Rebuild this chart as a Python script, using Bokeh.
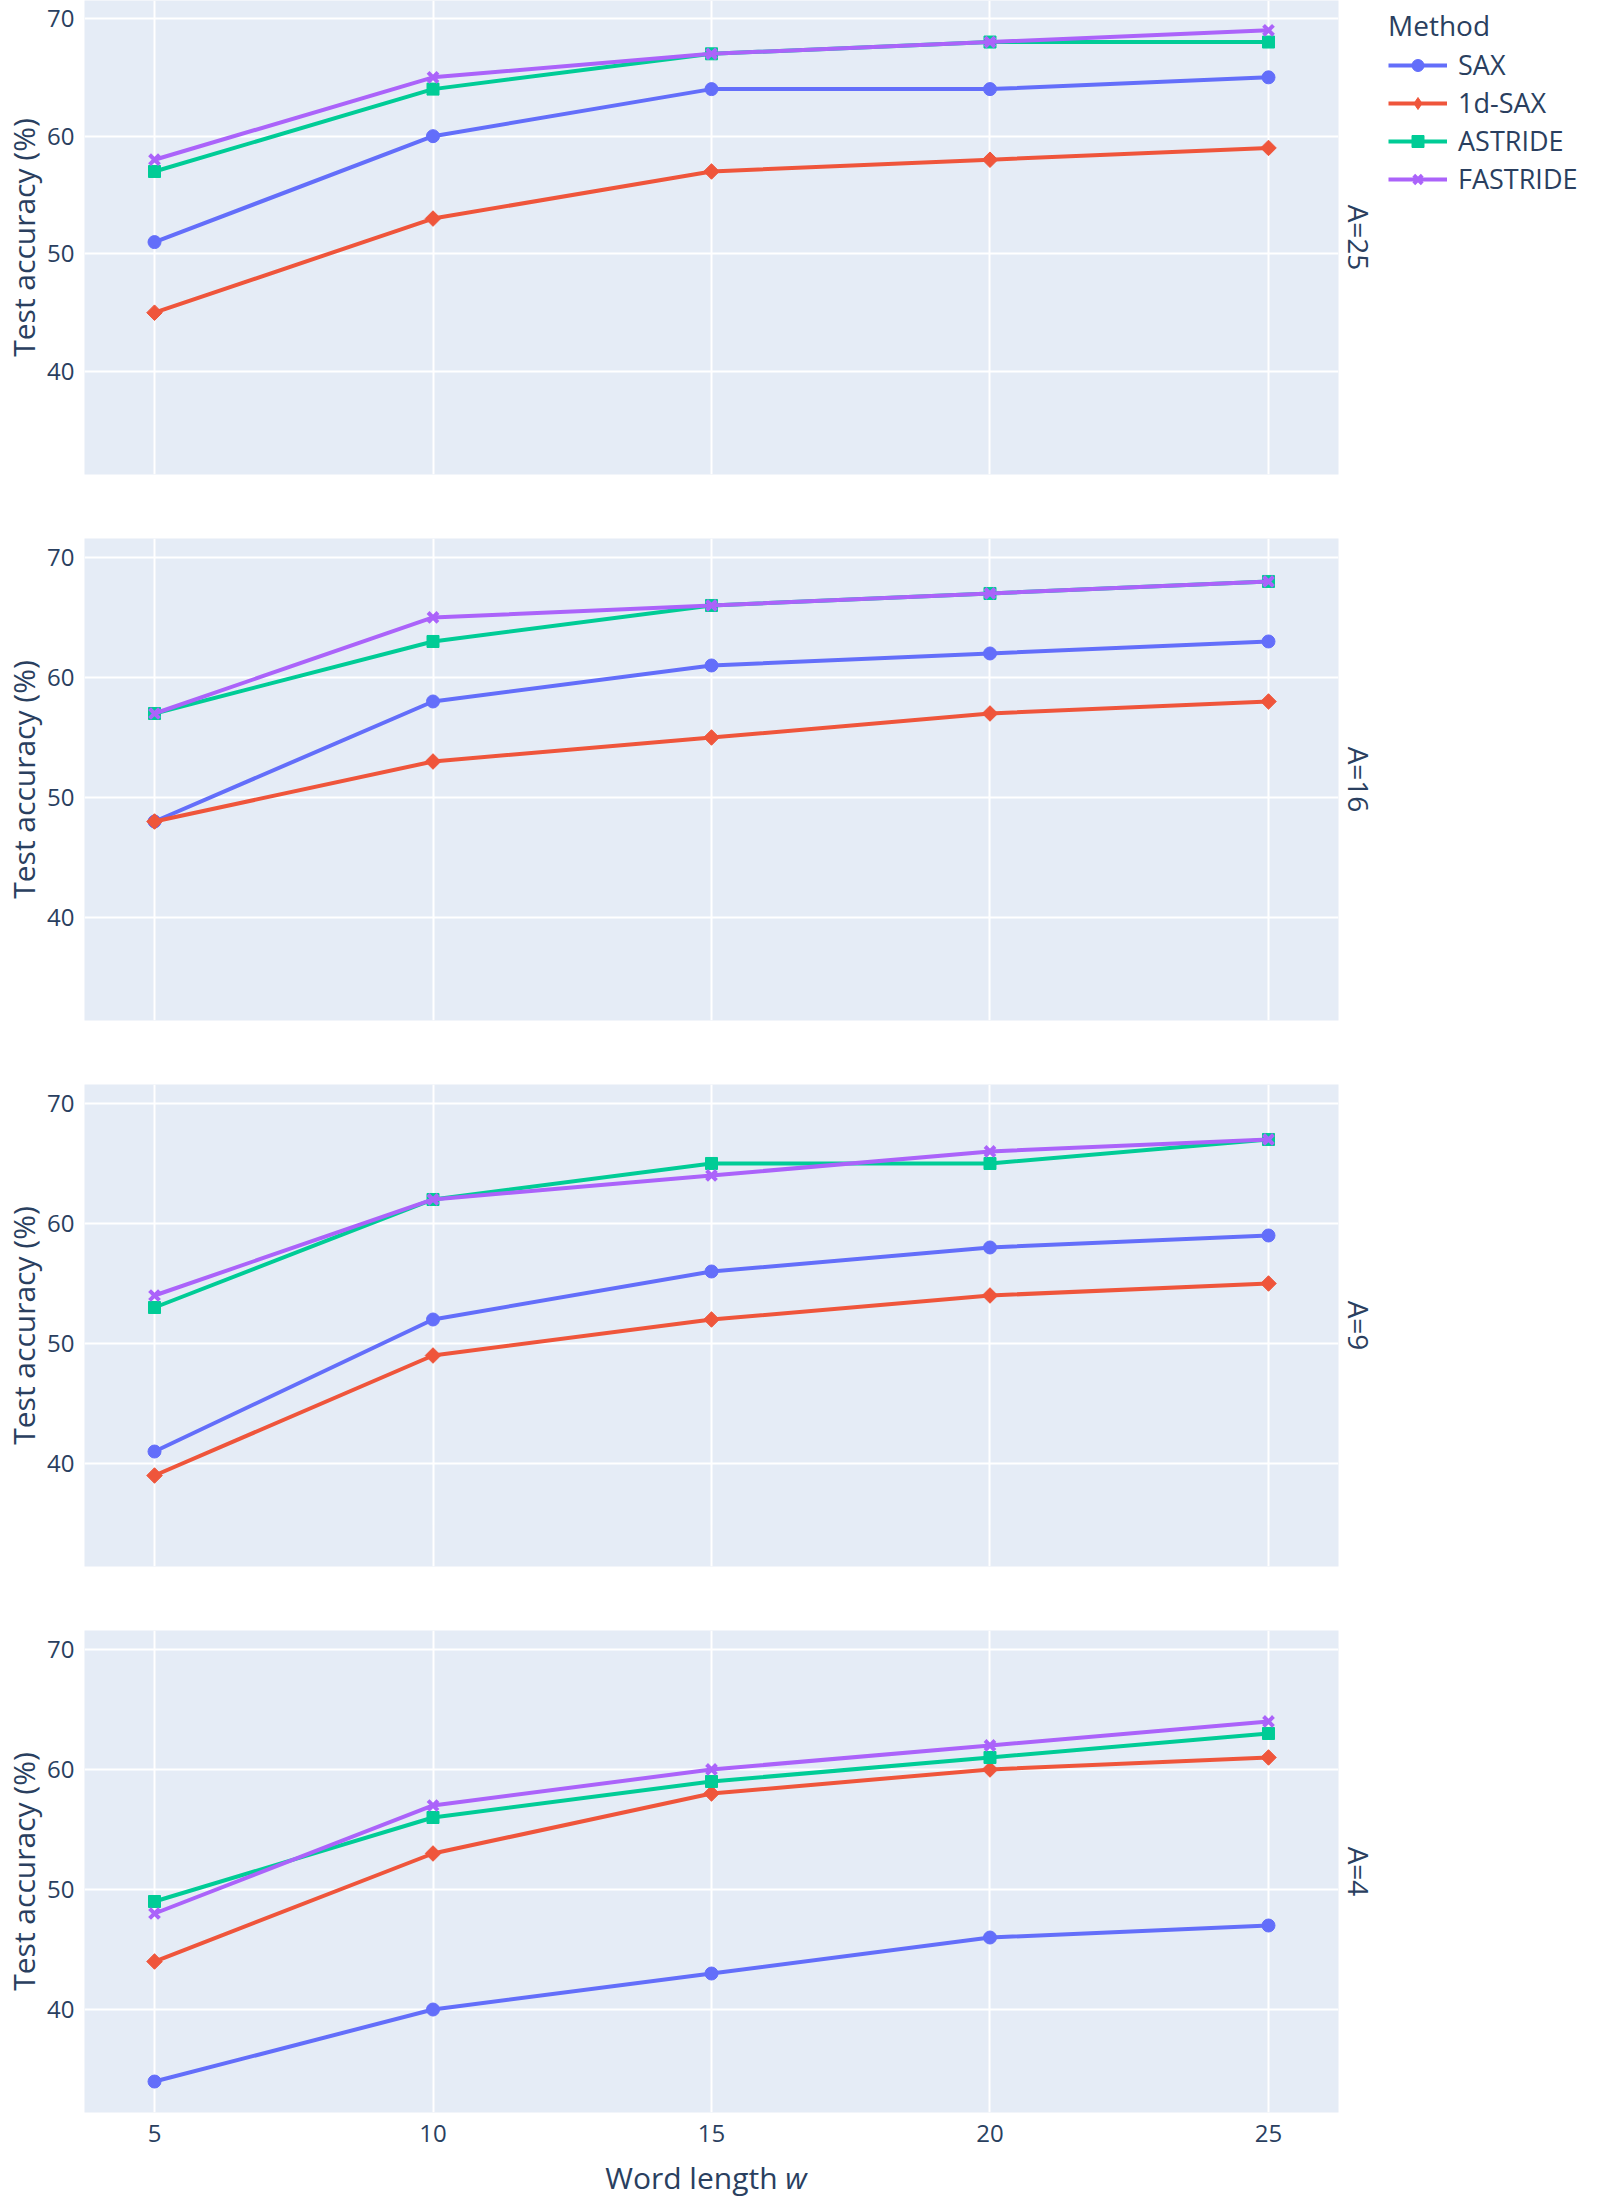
from math import pi
from bokeh.plotting import figure
from bokeh.layouts import column, row
from bokeh.models import Legend, LegendItem, Title, FixedTicker, Range1d, Div
from bokeh.embed import file_html
from bokeh.resources import INLINE

# ---------------- data ----------------
word_length = [5, 10, 15, 20, 25]
methods = ["SAX", "1d-SAX", "ASTRIDE", "FASTRIDE"]
facets = ["A=25", "A=16", "A=9", "A=4"]
x_ticks = [5, 10, 15, 20, 25]
y_ticks = [40, 50, 60, 70]

sax_a25 = [51, 60, 64, 64, 65]
sax1d_a25 = [45, 53, 57, 58, 59]
astride_a25 = [57, 64, 67, 68, 68]
fastride_a25 = [58, 65, 67, 68, 69]

sax_a16 = [48, 58, 61, 62, 63]
sax1d_a16 = [48, 53, 55, 57, 58]
astride_a16 = [57, 63, 66, 67, 68]
fastride_a16 = [57, 65, 66, 67, 68]

sax_a9 = [41, 52, 56, 58, 59]
sax1d_a9 = [39, 49, 52, 54, 55]
astride_a9 = [53, 62, 65, 65, 67]
fastride_a9 = [54, 62, 64, 66, 67]

sax_a4 = [34, 40, 43, 46, 47]
sax1d_a4 = [44, 53, 58, 60, 61]
astride_a4 = [49, 56, 59, 61, 63]
fastride_a4 = [48, 57, 60, 62, 64]

panel_data = [
    [sax_a25, sax1d_a25, astride_a25, fastride_a25],
    [sax_a16, sax1d_a16, astride_a16, fastride_a16],
    [sax_a9, sax1d_a9, astride_a9, fastride_a9],
    [sax_a4, sax1d_a4, astride_a4, fastride_a4],
]

# ---------------- style ----------------
colors = ["#636EFA", "#EF553B", "#00CC96", "#AB63FA"]
FONT = "Open Sans"
TXT = "#2a3f5f"
BG = "#E5ECF6"

FRAME_W = 1254
FRAME_H = 482
RB1 = 44  # right border of the first panel (facet label only)


def add_method(p, j, xs, ys, in_legend=False):
    c = colors[j]
    ln = p.line(xs, ys, line_color=c, line_width=4)
    if j == 0:
        mk = p.scatter(xs, ys, marker="circle", size=13, color=c)
    elif j == 1:
        if in_legend:
            mk = p.scatter(xs, ys, marker="diamond", size=17, color=c)
        else:
            mk = p.scatter(xs, ys, marker="square", angle=pi / 4, size=11, color=c)
    elif j == 2:
        mk = p.scatter(xs, ys, marker="square", size=12, color=c)
    else:
        mk = p.scatter(xs, ys, marker="x", size=14, line_color=c, line_width=4)
    return ln, mk


figs = []
fig1_h = None
for i, series in enumerate(panel_data):
    top = i == 0
    bottom = i == 3
    if top:
        fh, y_start, y_end, b_bot = 474, 31.25, 71.53, 64
    elif bottom:
        fh, y_start, y_end, b_bot = FRAME_H, 31.42, 71.58, 44
    else:
        fh, y_start, y_end, b_bot = FRAME_H, 31.42, 71.58, 64
    p = figure(
        frame_width=FRAME_W, frame_height=fh,
        x_range=Range1d(3.743, 26.257), y_range=Range1d(y_start, y_end),
        output_backend="svg", toolbar_location=None,
        min_border_left=74, min_border_right=RB1 if top else 256, min_border_top=0,
        min_border_bottom=b_bot,
    )
    p.background_fill_color = BG
    p.border_fill_color = "white"
    p.outline_line_color = None

    for ax in (p.xaxis, p.yaxis):
        ax.axis_line_color = None
        ax.major_tick_line_color = None
        ax.minor_tick_line_color = None
        ax.major_label_text_font = FONT
        ax.major_label_text_font_size = "24px"
        ax.major_label_text_color = TXT
    p.xaxis.major_label_standoff = 6
    p.yaxis.major_label_standoff = 4
    p.xaxis.ticker = FixedTicker(ticks=x_ticks)
    p.yaxis.ticker = FixedTicker(ticks=y_ticks)
    p.xgrid.ticker = FixedTicker(ticks=x_ticks)
    p.ygrid.ticker = FixedTicker(ticks=y_ticks)
    p.grid.grid_line_color = "white"
    p.grid.grid_line_width = 2
    p.yaxis.axis_label = "Test accuracy (%)"
    p.yaxis.axis_label_text_font = FONT
    p.yaxis.axis_label_text_font_size = "30px"
    p.yaxis.axis_label_text_font_style = "normal"
    p.yaxis.axis_label_text_color = TXT
    p.yaxis.axis_label_standoff = 0
    if not bottom:
        p.xaxis.visible = False

    for j, vals in enumerate(series):
        add_method(p, j, word_length, vals)

    p.add_layout(Title(
        text=facets[i], align="center", text_font=FONT, text_font_size="28px",
        text_font_style="normal", text_color=TXT, standoff=2,
    ), "right")
    figs.append(p)
    if top:
        fig1_h = 0 + fh + b_bot

# ---------------- legend (own narrow canvas to the right of panel 1) ----------------
# The legend canvas reuses the A=25 series, but its ranges keep them out of view,
# so only the legend itself is visible there.
lf = figure(
    width=1584 - (74 + FRAME_W + RB1), height=fig1_h,
    x_range=Range1d(0, 1), y_range=Range1d(0, 1),
    output_backend="svg", toolbar_location=None,
    min_border_left=0, min_border_right=0, min_border_top=0, min_border_bottom=0,
)
lf.outline_line_color = None
lf.axis.visible = False
lf.grid.visible = False
items = []
for j, name in enumerate(methods):
    ln, mk = add_method(lf, j, word_length, panel_data[0][j], in_legend=True)
    items.append(LegendItem(label=name, renderers=[ln, mk]))
leg = Legend(
    items=items, location="top_left", title="Method",
    title_text_font=FONT, title_text_font_size="28px", title_text_font_style="normal",
    title_text_color=TXT, title_standoff=2,
    label_text_font=FONT, label_text_font_size="27px", label_text_color=TXT,
    glyph_width=59, glyph_height=30, label_height=37, spacing=1, label_standoff=11,
    padding=0, margin=6, border_line_alpha=0, background_fill_alpha=0,
)
lf.add_layout(leg)

xtitle = Div(
    text=('<div style="width:1254px;margin-left:74px;text-align:center;'
          'position:relative;top:3px;'
          'font-family:\'Open Sans\';font-size:30px;line-height:28px;color:#2a3f5f;'
          'white-space:nowrap;">Word length <i>w</i></div>'),
    width=1584, height=28,
)

layout = column(row(figs[0], lf, spacing=0), *figs[1:], xtitle, spacing=0)
open("out.html", "w").write(file_html(layout, INLINE))
